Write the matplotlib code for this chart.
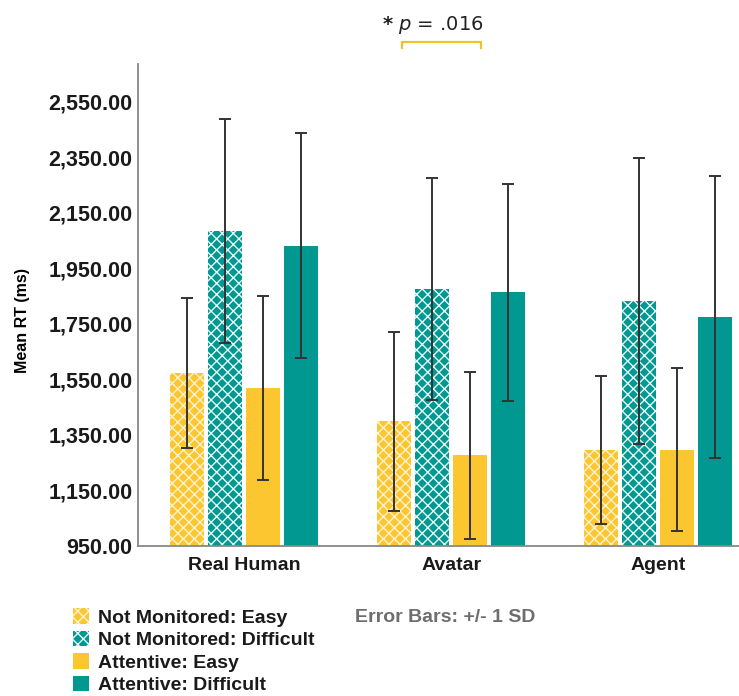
#!/usr/bin/env python3
"""Mean RT by presence condition, monitoring and difficulty (SPSS-style bar chart)."""
import matplotlib
matplotlib.use("Agg")
import matplotlib.pyplot as plt
import numpy as np

plt.rcParams["font.family"] = ["Liberation Sans", "DejaVu Sans"]
plt.rcParams["hatch.linewidth"] = 1.0

# data
groups = ["Real Human", "Avatar", "Agent"]
series = [
    "Not Monitored: Easy",
    "Not Monitored: Difficult",
    "Attentive: Easy",
    "Attentive: Difficult",
]
nm_easy = [1572, 1398, 1293]
nm_diff = [2083, 1875, 1831]
att_easy = [1518, 1275, 1296]
att_diff = [2031, 1863, 1774]
nm_easy_sd = [271, 322, 267]
nm_diff_sd = [404, 400, 515]
att_easy_sd = [332, 302, 293]
att_diff_sd = [405, 391, 508]
yticks = [950, 1150, 1350, 1550, 1750, 1950, 2150, 2350, 2550]

YELLOW = "#FBC630"
TEAL = "#009890"

means = [nm_easy, nm_diff, att_easy, att_diff]
sds = [nm_easy_sd, nm_diff_sd, att_easy_sd, att_diff_sd]
colors = [YELLOW, TEAL, YELLOW, TEAL]
hatches = ["xxx", "xxx", None, None]

fig = plt.figure(figsize=(7.39, 6.96), dpi=100)
ax = fig.add_axes([0.1867, 0.2162, 0.8133, 0.6918])

x = np.arange(len(groups))
width = 0.164
step = 0.183
handles = []
for i, (m, s, c, h) in enumerate(zip(means, sds, colors, hatches)):
    pos = x + (i - 1.5) * step
    b = ax.bar(pos, m, width, bottom=0, color=c, hatch=h,
               edgecolor="#e8f6f4" if c == TEAL else "#fff3d0", linewidth=0,
               label=series[i], zorder=2)
    handles.append(b)
    ax.errorbar(pos, m, yerr=s, fmt="none", ecolor="#333333",
                elinewidth=1.4, capsize=4, capthick=1.4, zorder=3)

ax.set_ylim(950, 2686)
ax.set_xlim(-0.513, 2.39)
ax.set_yticks(yticks)
ax.set_yticklabels([f"{v:,.2f}" for v in yticks], fontsize=15.5, fontweight="bold",
                   color="#1a1a1a")
ax.set_xticks(x)
ax.set_xticklabels(groups, fontsize=14, fontweight="bold", color="#1a1a1a")
ax.tick_params(axis="both", length=0, pad=4)
ax.tick_params(axis="x", pad=8)
for side in ("top", "right"):
    ax.spines[side].set_visible(False)
for side in ("left", "bottom"):
    ax.spines[side].set_color("#888888")
    ax.spines[side].set_linewidth(1.3)
ax.set_ylabel("Mean RT (ms)", fontsize=11.5, fontweight="bold")
ax.yaxis.set_label_coords(-0.18, 0.468)

# significance bracket between Avatar conditions
bx0, bx1 = 0.762, 1.144
ax.plot([bx0, bx0, bx1, bx1], [2742, 2764, 2764, 2742], color="#F5C02A",
        lw=1.6, clip_on=False)
fig.text(0.586, 0.964, r"$\bf{*}$ $\it{p}$ = .016", fontsize=14, color="#222222",
         ha="center", va="center", family=["DejaVu Sans"])

leg = fig.legend(handles=handles, loc="upper left", bbox_to_anchor=(0.088, 0.137),
                 frameon=False, fontsize=14, handlelength=0.85, handleheight=0.85,
                 handletextpad=0.45, labelspacing=0.2, borderaxespad=0)
for t in leg.get_texts():
    t.set_fontweight("bold")
    t.set_color("#1a1a1a")

fig.text(0.48, 0.113, "Error Bars: +/- 1 SD", fontsize=14, fontweight="bold",
         color="#6e6e6e", va="center")

fig.savefig("out.png", dpi=100)
